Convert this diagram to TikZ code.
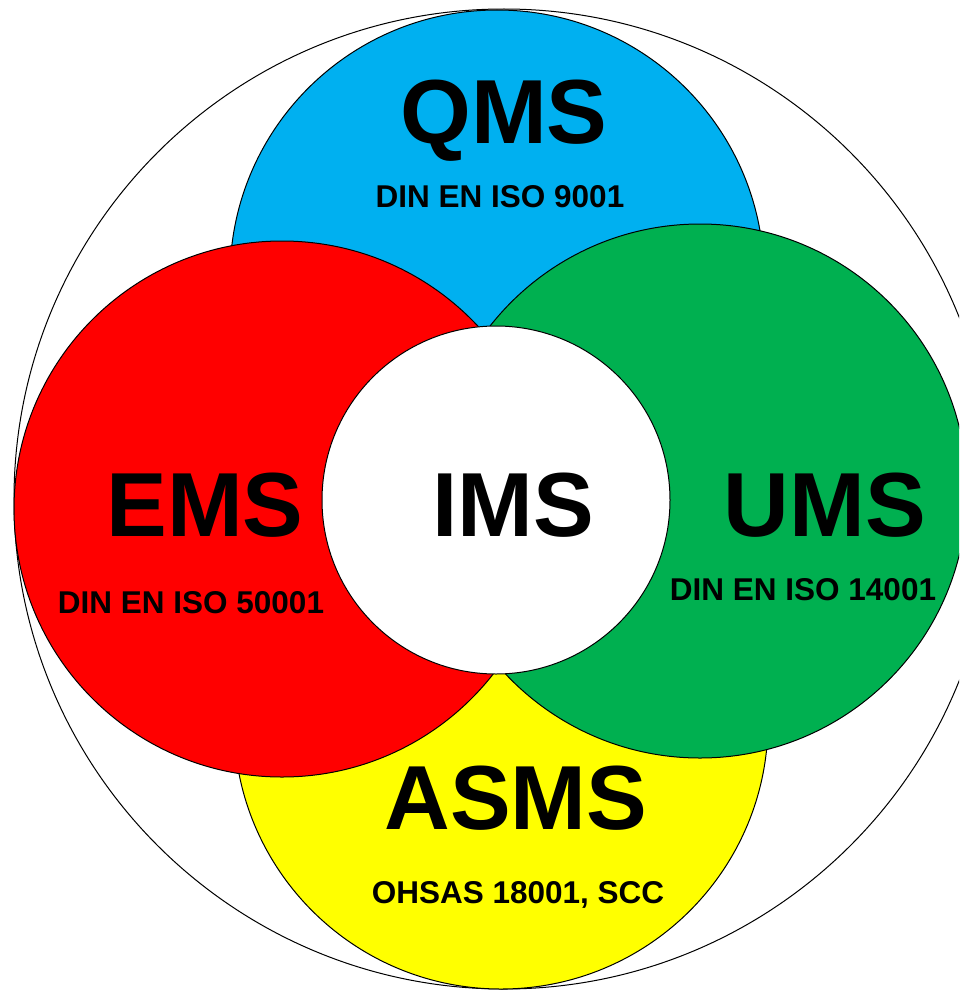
\documentclass[tikz,border=0pt]{standalone}
\usepackage{fontspec}
\setmainfont{Liberation Sans}
\definecolor{qmsblue}{HTML}{00B0F0}
\definecolor{emsred}{HTML}{FF0000}
\definecolor{umsgreen}{HTML}{00B050}
\definecolor{asmsyellow}{HTML}{FFFF00}
\tikzset{
	ring/.style={draw=black, line width=1pt},
	bigtxt/.style={anchor=base, inner sep=0pt, font=\fontsize{91}{91}\selectfont\bfseries},
	normtxt/.style={anchor=base, inner sep=0pt, font=\fontsize{31.5}{31.5}\selectfont\bfseries}
}
\begin{document}
\begin{tikzpicture}[x=1pt,y=-1pt]
	\path [use as bounding box, clip] (0,0) rectangle (959,990);
	%outer circle
	\draw [ring, fill=white] (504,499) circle (490pt);
	%systems
	\draw [ring, fill=qmsblue] (497,277) circle (267pt);
	\draw [ring, fill=asmsyellow] (501,722) circle (267pt);
	\draw [ring, fill=emsred] (282,509) circle (268pt);
	\draw [ring, fill=umsgreen] (700,491) circle (267pt);
	\draw [ring, fill=white] (496,500) circle (174pt);
	%labels
	\node [bigtxt] (qms) at (504,143) {QMS};
	\node [normtxt] (qmsnorm) at (500,207) {DIN EN ISO 9001};
	\node [bigtxt] (ems) at (205,536) {EMS};
	\node [normtxt] (emsnorm) at (191,613) {DIN EN ISO 50001};
	\node [bigtxt] (ims) at (513,536) {IMS};
	\node [bigtxt] (ums) at (825,536) {UMS};
	\node [normtxt] (umsnorm) at (803,600) {DIN EN ISO 14001};
	\node [bigtxt] (asms) at (516,829) {ASMS};
	\node [normtxt] (asmsnorm) at (518,903) {OHSAS 18001, SCC};
\end{tikzpicture}
\end{document}
